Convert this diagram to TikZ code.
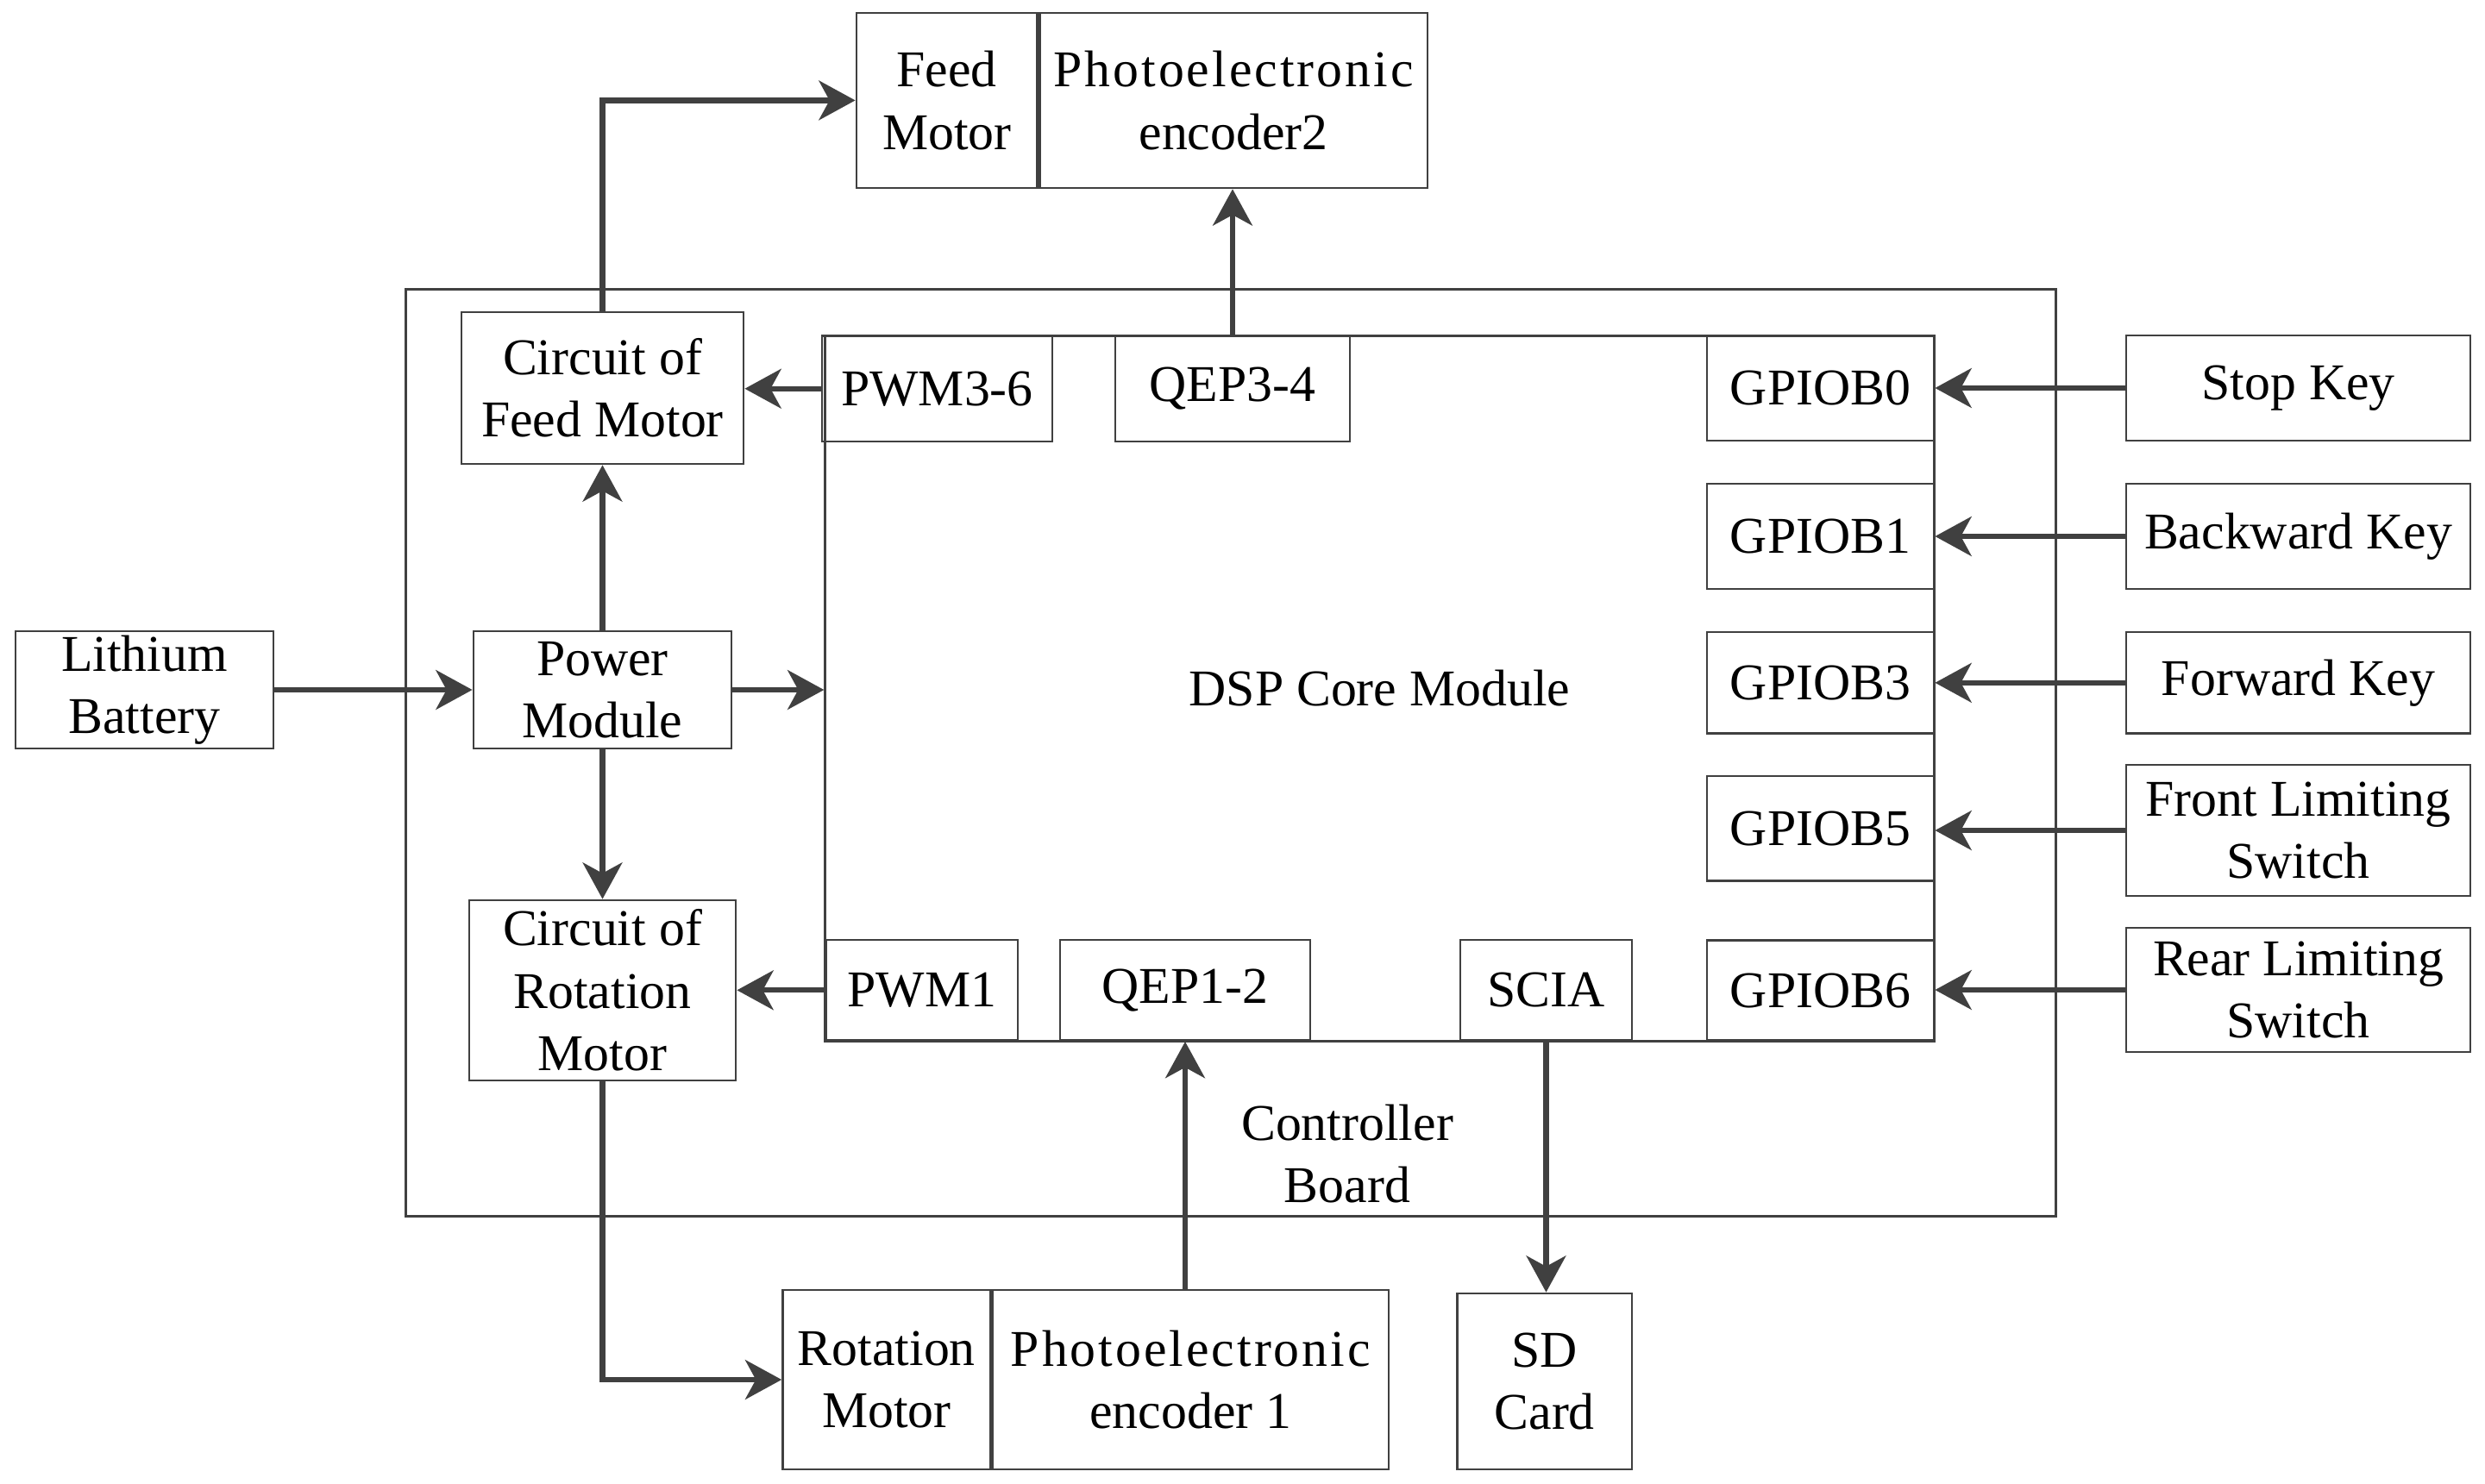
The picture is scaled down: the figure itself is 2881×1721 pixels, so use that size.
\documentclass[tikz,border=0pt]{standalone}
\usepackage{fontspec}
\setmainfont{Liberation Serif}
\usetikzlibrary{arrows.meta,positioning}
\definecolor{linegray}{HTML}{404040}
\tikzset{
	blk/.style={draw=linegray, line width=0.75pt, inner sep=0pt, align=center, font=\fontsize{17pt}{20.6pt}\selectfont},
	lbl/.style={inner sep=0pt, align=center, font=\fontsize{17pt}{20.6pt}\selectfont},
	sz/.style 2 args={minimum width=#1cm, minimum height=#2cm},
	sig/.style={draw=linegray, line width=1.8pt, -{Stealth[length=12pt, width=13pt, inset=3.5pt]}},
}

\begin{document}
\begin{tikzpicture}[x=0.01cm, y=-0.01cm]
	\useasboundingbox (0,0) rectangle (2881,1721);

	\node[blk, sz={19.12}{10.74}] (board) at (1427,873) {};
	\node[lbl] (boardlbl) at (1562,1338) {Controller\\Board};
	\node[blk, sz={12.85}{8.175}] (dsp) at (1599.5,798.25) {DSP Core Module};

	\node[blk, sz={2.67}{1.225}] (pwm36) at (1086.5,450.75) {PWM3-6};
	\node[blk, sz={2.72}{1.225}] (qep34) at (1429,450.75) {QEP3-4};
	\node[blk, sz={2.22}{1.166}] (pwm1) at (1069,1148.3) {PWM1};
	\node[blk, sz={2.90}{1.166}] (qep12) at (1374,1148.3) {QEP1-2};
	\node[blk, sz={1.99}{1.166}] (scia) at (1792.5,1148.3) {SCIA};

	\node[blk, sz={2.63}{1.22}] (gpiob0) at (2110.5,450) {GPIOB0};
	\node[blk, sz={2.63}{1.22}] (gpiob1) at (2110.5,622) {GPIOB1};
	\node[blk, sz={2.63}{1.176}] (gpiob3) at (2110.5,791.8) {GPIOB3};
	\node[blk, sz={2.63}{1.216}] (gpiob5) at (2110.5,960.8) {GPIOB5};
	\node[blk, sz={2.63}{1.16}] (gpiob6) at (2110.5,1148.5) {GPIOB6};

	\node[blk, sz={3.99}{1.22}] (stop) at (2664.5,450) {Stop Key};
	\node[blk, sz={3.99}{1.22}] (backward) at (2664.5,622) {Backward Key};
	\node[blk, sz={3.99}{1.176}] (forward) at (2664.5,791.8) {Forward Key};
	\node[blk, sz={3.99}{1.52}] (front) at (2664.5,963) {Front Limiting\\Switch};
	\node[blk, sz={3.99}{1.44}] (rear) at (2664.5,1148) {Rear Limiting\\Switch};

	\node[blk, sz={2.99}{1.36}] (battery) at (167.5,800) {Lithium\\Battery};
	\node[blk, sz={2.99}{1.36}] (power) at (698.5,800) {Power\\Module};
	\node[blk, sz={3.27}{1.76}] (cfeed) at (698.5,450) {Circuit of\\Feed Motor};
	\node[blk, sz={3.09}{2.09}] (crot) at (698.5,1148.5) {Circuit of\\Rotation\\Motor};

	\node[blk, sz={2.095}{2.03}] (feedmotor) at (1097.75,116.4) {Feed\\Motor};
	\node[blk, sz={4.495}{2.03}, right=0pt of feedmotor] (enc2) {{\addfontfeature{LetterSpace=5}Photoelectronic}\\encoder2};
	\node[blk, sz={2.404}{2.08}] (rotmotor) at (1027.8,1600) {Rotation\\Motor};
	\node[blk, sz={4.59}{2.08}, right=0pt of rotmotor] (enc1) {{\addfontfeature{LetterSpace=5}Photoelectronic}\\encoder 1};
	\node[blk, sz={2.025}{2.04}] (sdcard) at (1790.75,1602) {SD\\Card};

	\draw[sig] (battery) -- (power);
	\draw[sig] (power.east) -- (power.east -| dsp.west);
	\draw[sig] (power) -- (cfeed);
	\draw[sig] (power) -- (crot);
	\draw[sig] (pwm36.west) -- (pwm36.west -| cfeed.east);
	\draw[sig] (cfeed.north) |- (feedmotor.west);
	\draw[sig] (qep34.north) -- (qep34.north |- enc2.south);
	\foreach \k/\g in {stop/gpiob0, backward/gpiob1, forward/gpiob3, front/gpiob5, rear/gpiob6}
		\draw[sig] (\k.west) -- (\k.west -| \g.east);
	\draw[sig] (pwm1.west) -- (pwm1.west -| crot.east);
	\draw[sig] (crot.south) |- (rotmotor.west);
	\draw[sig] (qep12.south |- enc1.north) -- (qep12.south);
	\draw[sig] (scia.south) -- (scia.south |- sdcard.north);
\end{tikzpicture}
\end{document}
